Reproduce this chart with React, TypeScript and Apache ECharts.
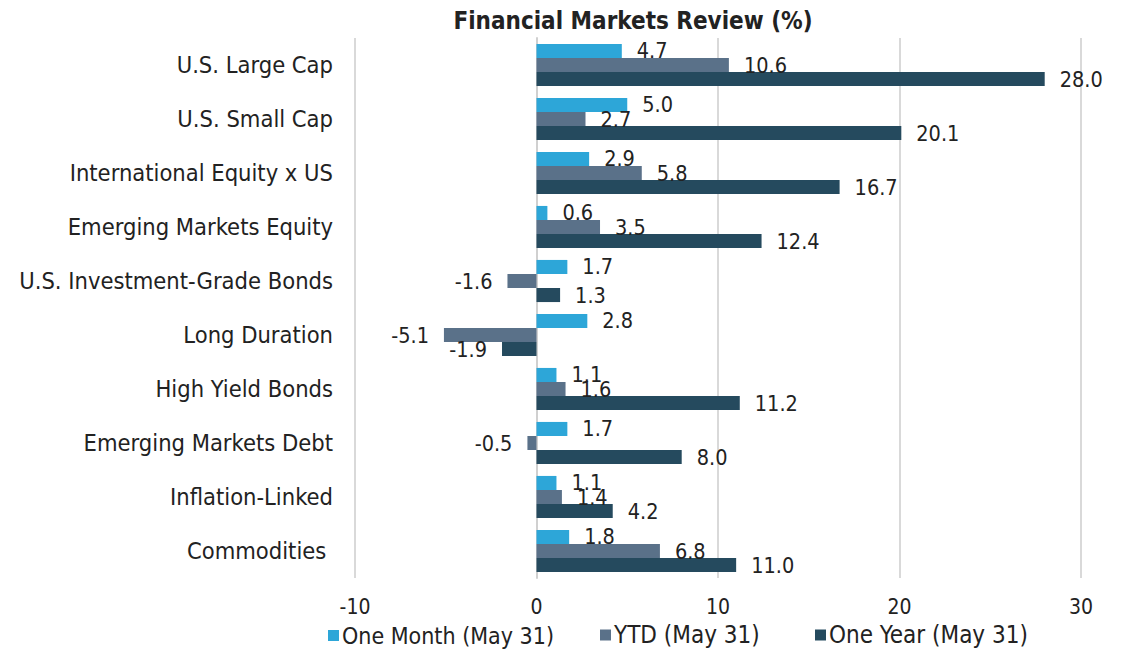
import React, { useEffect, useRef } from "react";
import * as echarts from "echarts";

const categories = [
  "U.S. Large Cap",
  "U.S. Small Cap",
  "International Equity x US",
  "Emerging Markets Equity",
  "U.S. Investment-Grade Bonds",
  "Long Duration",
  "High Yield Bonds",
  "Emerging Markets Debt",
  "Inflation-Linked",
  "Commodities ",
];
const oneMonth = [4.7, 5.0, 2.9, 0.6, 1.7, 2.8, 1.1, 1.7, 1.1, 1.8];
const ytd = [10.6, 2.7, 5.8, 3.5, -1.6, -5.1, 1.6, -0.5, 1.4, 6.8];
const oneYear = [28.0, 20.1, 16.7, 12.4, 1.3, -1.9, 11.2, 8.0, 4.2, 11.0];
const seriesNames = ["One Month (May 31)", "YTD (May 31)", "One Year (May 31)"];
const colors = ["#2DA6D8", "#5A7189", "#254A5E"];

const FONT = "DejaVu Sans Condensed";

function makeSeries(name: string, values: number[], color: string) {
  return {
    name,
    type: "bar",
    barGap: "0%",
    barCategoryGap: "22%",
    itemStyle: { color },
    data: values.map((v) => ({
      value: v,
      label: {
        show: true,
        position: v < 0 ? "left" : "right",
        distance: 15,
        formatter: (p: any) => Number(p.value).toFixed(1),
        color: "#222",
        fontSize: 21.5,
        fontFamily: FONT,
      },
    })),
  };
}

function makeLegend(name: string, left: number, fontSize: number) {
  return {
    bottom: 2,
    left,
    itemWidth: 11,
    itemHeight: 11,
    icon: "rect",
    textStyle: { fontFamily: FONT, fontSize, color: "#222", padding: [0, 0, 0, -2] },
    data: [name],
  };
}

export default function App() {
  const ref = useRef<HTMLDivElement>(null);
  useEffect(() => {
    const chart = echarts.init(ref.current!, null, { renderer: "svg" });
    chart.setOption({
      animation: false,
      color: colors,
      title: {
        text: "Financial Markets Review (%)",
        left: 628,
        textAlign: "center",
        top: 4,
        textStyle: { fontFamily: FONT, fontSize: 24, fontWeight: "bold", color: "#222" },
      },
      legend: [
        makeLegend(seriesNames[0], 323, 23),
        makeLegend(seriesNames[1], 595, 24),
        makeLegend(seriesNames[2], 810, 24),
      ],
      grid: { left: 355, right: 43, top: 38, bottom: 76 },
      xAxis: {
        type: "value",
        min: -10,
        max: 30,
        interval: 10,
        axisLabel: { fontFamily: FONT, fontSize: 21, color: "#222", margin: 18 },
        splitLine: { show: true, lineStyle: { color: "#d9d9d9", width: 2 } },
        axisLine: { show: false },
        axisTick: { show: false },
      },
      yAxis: {
        type: "category",
        inverse: true,
        data: categories,
        axisLine: { show: true, onZero: true, lineStyle: { color: "#d0d0d0", width: 2 } },
        axisTick: { show: false },
        axisLabel: { fontFamily: FONT, fontSize: 23.5, color: "#222", margin: 22 },
      },
      series: [
        makeSeries(seriesNames[0], oneMonth, colors[0]),
        makeSeries(seriesNames[1], ytd, colors[1]),
        makeSeries(seriesNames[2], oneYear, colors[2]),
      ],
    });
    return () => chart.dispose();
  }, []);
  return <div ref={ref} style={{ width: 1124, height: 654, position: "absolute", left: 0, top: 0 }} />;
}
